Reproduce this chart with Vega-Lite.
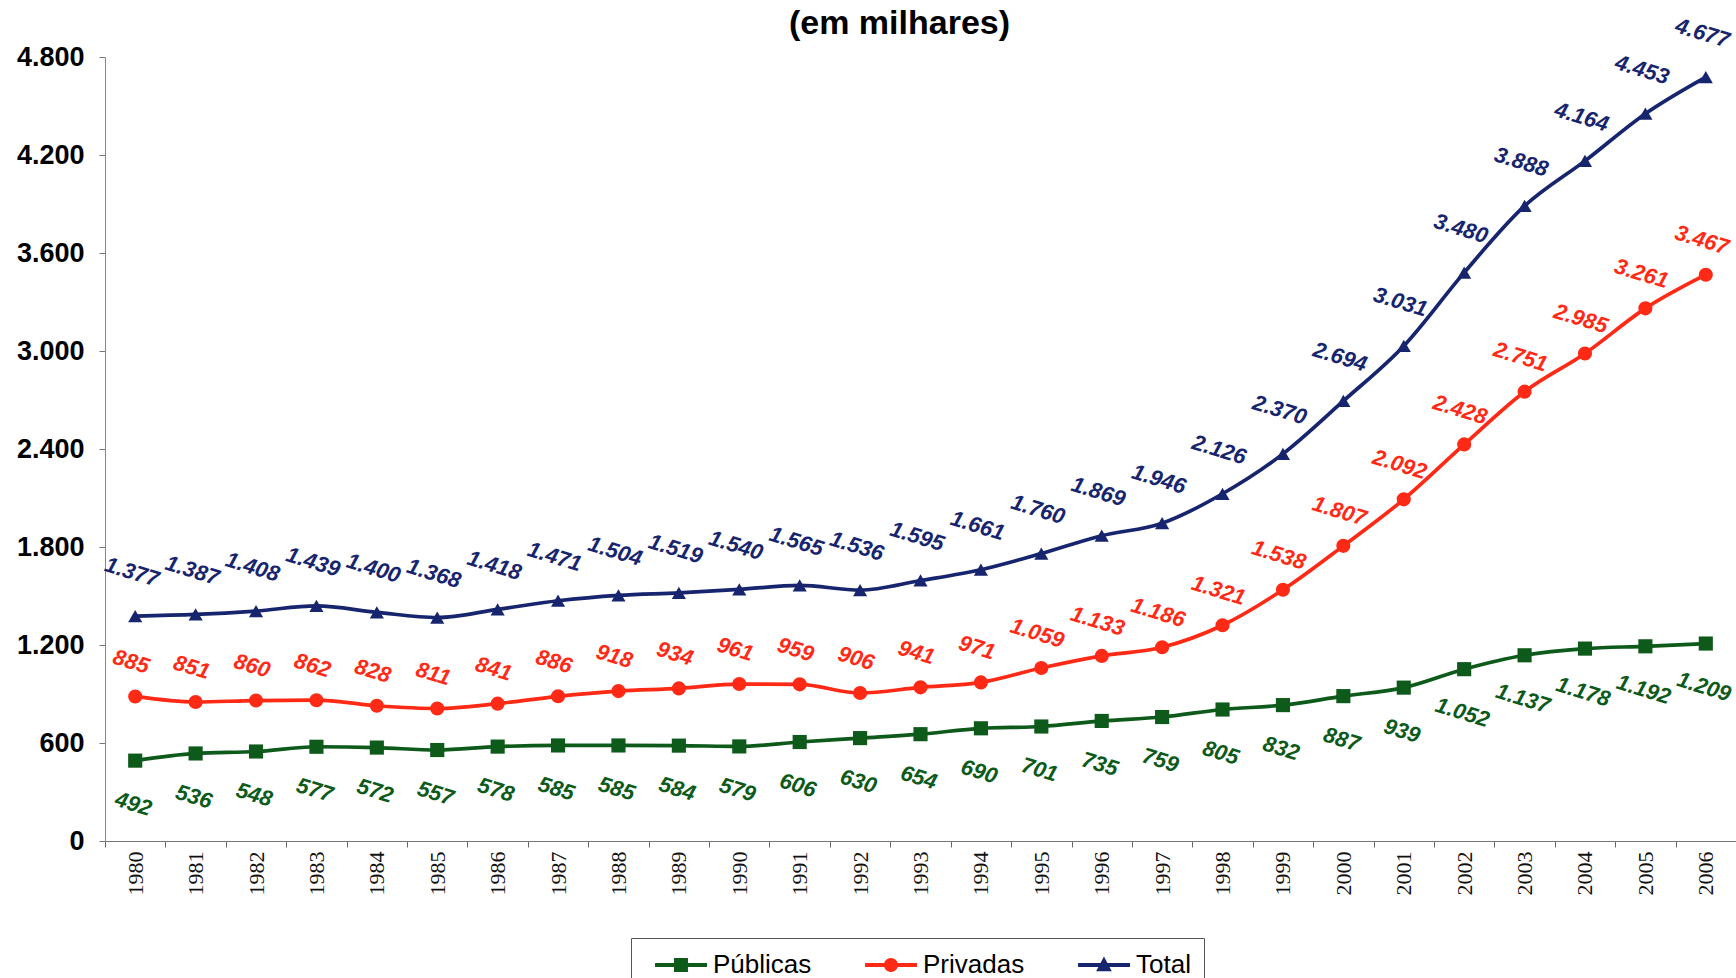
{
  "$schema": "https://vega.github.io/schema/vega-lite/v6.json",
  "width": 1631,
  "height": 784,
  "autosize": {"type": "none"},
  "padding": {"left": 105, "top": 57, "right": 0, "bottom": 137},
  "background": "white",
  "config": {
    "locale": {"number": {"decimal": ",", "thousands": ".", "grouping": [3], "currency": ["R$", ""]}},
    "view": {"stroke": null},
    "font": "Liberation Sans"
  },
  "title": {"text": "(em milhares)", "font": "Liberation Sans", "fontSize": 34, "fontWeight": "bold", "color": "black", "anchor": "middle", "frame": "group", "dx": -21, "offset": 0, "dy": 26},
  "data": {"values": [
    {"year": "1980", "series": "Públicas", "value": 492}, {"year": "1981", "series": "Públicas", "value": 536}, {"year": "1982", "series": "Públicas", "value": 548},
    {"year": "1983", "series": "Públicas", "value": 577}, {"year": "1984", "series": "Públicas", "value": 572}, {"year": "1985", "series": "Públicas", "value": 557},
    {"year": "1986", "series": "Públicas", "value": 578}, {"year": "1987", "series": "Públicas", "value": 585}, {"year": "1988", "series": "Públicas", "value": 585},
    {"year": "1989", "series": "Públicas", "value": 584}, {"year": "1990", "series": "Públicas", "value": 579}, {"year": "1991", "series": "Públicas", "value": 606},
    {"year": "1992", "series": "Públicas", "value": 630}, {"year": "1993", "series": "Públicas", "value": 654}, {"year": "1994", "series": "Públicas", "value": 690},
    {"year": "1995", "series": "Públicas", "value": 701}, {"year": "1996", "series": "Públicas", "value": 735}, {"year": "1997", "series": "Públicas", "value": 759},
    {"year": "1998", "series": "Públicas", "value": 805}, {"year": "1999", "series": "Públicas", "value": 832}, {"year": "2000", "series": "Públicas", "value": 887},
    {"year": "2001", "series": "Públicas", "value": 939}, {"year": "2002", "series": "Públicas", "value": 1052}, {"year": "2003", "series": "Públicas", "value": 1137},
    {"year": "2004", "series": "Públicas", "value": 1178}, {"year": "2005", "series": "Públicas", "value": 1192}, {"year": "2006", "series": "Públicas", "value": 1209},
    {"year": "1980", "series": "Privadas", "value": 885}, {"year": "1981", "series": "Privadas", "value": 851}, {"year": "1982", "series": "Privadas", "value": 860},
    {"year": "1983", "series": "Privadas", "value": 862}, {"year": "1984", "series": "Privadas", "value": 828}, {"year": "1985", "series": "Privadas", "value": 811},
    {"year": "1986", "series": "Privadas", "value": 841}, {"year": "1987", "series": "Privadas", "value": 886}, {"year": "1988", "series": "Privadas", "value": 918},
    {"year": "1989", "series": "Privadas", "value": 934}, {"year": "1990", "series": "Privadas", "value": 961}, {"year": "1991", "series": "Privadas", "value": 959},
    {"year": "1992", "series": "Privadas", "value": 906}, {"year": "1993", "series": "Privadas", "value": 941}, {"year": "1994", "series": "Privadas", "value": 971},
    {"year": "1995", "series": "Privadas", "value": 1059}, {"year": "1996", "series": "Privadas", "value": 1133}, {"year": "1997", "series": "Privadas", "value": 1186},
    {"year": "1998", "series": "Privadas", "value": 1321}, {"year": "1999", "series": "Privadas", "value": 1538}, {"year": "2000", "series": "Privadas", "value": 1807},
    {"year": "2001", "series": "Privadas", "value": 2092}, {"year": "2002", "series": "Privadas", "value": 2428}, {"year": "2003", "series": "Privadas", "value": 2751},
    {"year": "2004", "series": "Privadas", "value": 2985}, {"year": "2005", "series": "Privadas", "value": 3261}, {"year": "2006", "series": "Privadas", "value": 3467},
    {"year": "1980", "series": "Total", "value": 1377}, {"year": "1981", "series": "Total", "value": 1387}, {"year": "1982", "series": "Total", "value": 1408},
    {"year": "1983", "series": "Total", "value": 1439}, {"year": "1984", "series": "Total", "value": 1400}, {"year": "1985", "series": "Total", "value": 1368},
    {"year": "1986", "series": "Total", "value": 1418}, {"year": "1987", "series": "Total", "value": 1471}, {"year": "1988", "series": "Total", "value": 1504},
    {"year": "1989", "series": "Total", "value": 1519}, {"year": "1990", "series": "Total", "value": 1540}, {"year": "1991", "series": "Total", "value": 1565},
    {"year": "1992", "series": "Total", "value": 1536}, {"year": "1993", "series": "Total", "value": 1595}, {"year": "1994", "series": "Total", "value": 1661},
    {"year": "1995", "series": "Total", "value": 1760}, {"year": "1996", "series": "Total", "value": 1869}, {"year": "1997", "series": "Total", "value": 1946},
    {"year": "1998", "series": "Total", "value": 2126}, {"year": "1999", "series": "Total", "value": 2370}, {"year": "2000", "series": "Total", "value": 2694},
    {"year": "2001", "series": "Total", "value": 3031}, {"year": "2002", "series": "Total", "value": 3480}, {"year": "2003", "series": "Total", "value": 3888},
    {"year": "2004", "series": "Total", "value": 4164}, {"year": "2005", "series": "Total", "value": 4453}, {"year": "2006", "series": "Total", "value": 4677}
  ]},
  "encoding": {
    "x": {
      "field": "year", "type": "ordinal",
      "scale": {"type": "band", "paddingInner": 0, "paddingOuter": 0},
      "axis": {"title": null, "labelAngle": 270, "labelAlign": "right", "labelBaseline": "middle", "labelFont": "Liberation Serif", "labelFontSize": 22, "labelColor": "#111", "tickSize": 6, "tickColor": "#666", "domainColor": "#777", "tickBand": "extent", "labelPadding": 4, "grid": false}
    },
    "y": {
      "field": "value", "type": "quantitative",
      "scale": {"domain": [0, 4800], "nice": false},
      "axis": {"title": null, "values": [0, 600, 1200, 1800, 2400, 3000, 3600, 4200, 4800], "format": ",d", "labelFont": "Liberation Sans", "labelFontSize": 27, "labelFontWeight": "bold", "labelColor": "black", "tickSize": 6, "tickColor": "#777", "domainColor": "#888", "labelPadding": 15, "grid": false}
    },
    "color": {
      "field": "series", "type": "nominal",
      "scale": {"domain": ["Públicas", "Privadas", "Total"], "range": ["#0D5A1B", "#FF2A16", "#17256F"]},
      "legend": {
        "title": null, "orient": "none", "legendX": 526, "legendY": 881, "direction": "horizontal",
        "strokeColor": "#555", "padding": 13, "labelFont": "Liberation Sans", "labelFontSize": 26, "labelColor": "black",
        "symbolSize": 784, "labelOffset": 41, "columnPadding": 42,
        "encode": {"symbols": {"update": {
          "shape": {"signal": "datum.value === 'Públicas' ? 'M-0.21,-0.14H3.5V0.14H-0.21Z M1.14,-0.5H2.14V0.5H1.14Z' : datum.value === 'Privadas' ? 'M-0.21,-0.14H3.5V0.14H-0.21Z M1.14,0A0.5,0.5 0 1,1 2.14,0A0.5,0.5 0 1,1 1.14,0Z' : 'M-0.21,-0.14H3.5V0.14H-0.21Z M1.64,-0.6L2.2,0.45L1.08,0.45Z'"},
          "fill": {"signal": "scale('color', datum.value)"},
          "stroke": {"signal": "scale('color', datum.value)"},
          "fillOpacity": {"value": 1},
          "opacity": {"value": 1},
          "strokeWidth": {"value": 0},
          "size": {"value": 784}
        }}}
      }
    }
  },
  "layer": [
    {"mark": {"type": "line", "interpolate": "monotone", "strokeWidth": 3.7}},
    {
      "transform": [{"filter": "datum.series === 'Públicas'"}],
      "mark": {"type": "point", "filled": true, "opacity": 1, "size": 200, "shape": "square"}
    },
    {
      "transform": [{"filter": "datum.series === 'Privadas'"}],
      "mark": {"type": "point", "filled": true, "opacity": 1, "size": 200, "shape": "circle"}
    },
    {
      "transform": [{"filter": "datum.series === 'Total'"}],
      "mark": {"type": "point", "filled": true, "opacity": 1, "size": 200, "shape": "triangle-up"}
    },
    {
      "transform": [{"filter": "datum.series === 'Total'"}],
      "mark": {"type": "text", "dx": -16, "dy": -41, "angle": 17, "font": "Liberation Sans", "fontSize": 22, "fontStyle": "italic", "fontWeight": "bold", "align": "center", "baseline": "middle"},
      "encoding": {"text": {"field": "value", "type": "quantitative", "format": ",d"}}
    },
    {
      "transform": [{"filter": "datum.series === 'Privadas'"}],
      "mark": {"type": "text", "dx": -14, "dy": -32, "angle": 17, "font": "Liberation Sans", "fontSize": 22, "fontStyle": "italic", "fontWeight": "bold", "align": "center", "baseline": "middle"},
      "encoding": {"text": {"field": "value", "type": "quantitative", "format": ",d"}}
    },
    {
      "transform": [{"filter": "datum.series === 'Públicas'"}],
      "mark": {"type": "text", "dx": 11, "dy": 42, "angle": 17, "font": "Liberation Sans", "fontSize": 22, "fontStyle": "italic", "fontWeight": "bold", "align": "center", "baseline": "middle"},
      "encoding": {"text": {"field": "value", "type": "quantitative", "format": ",d"}}
    }
  ]
}
